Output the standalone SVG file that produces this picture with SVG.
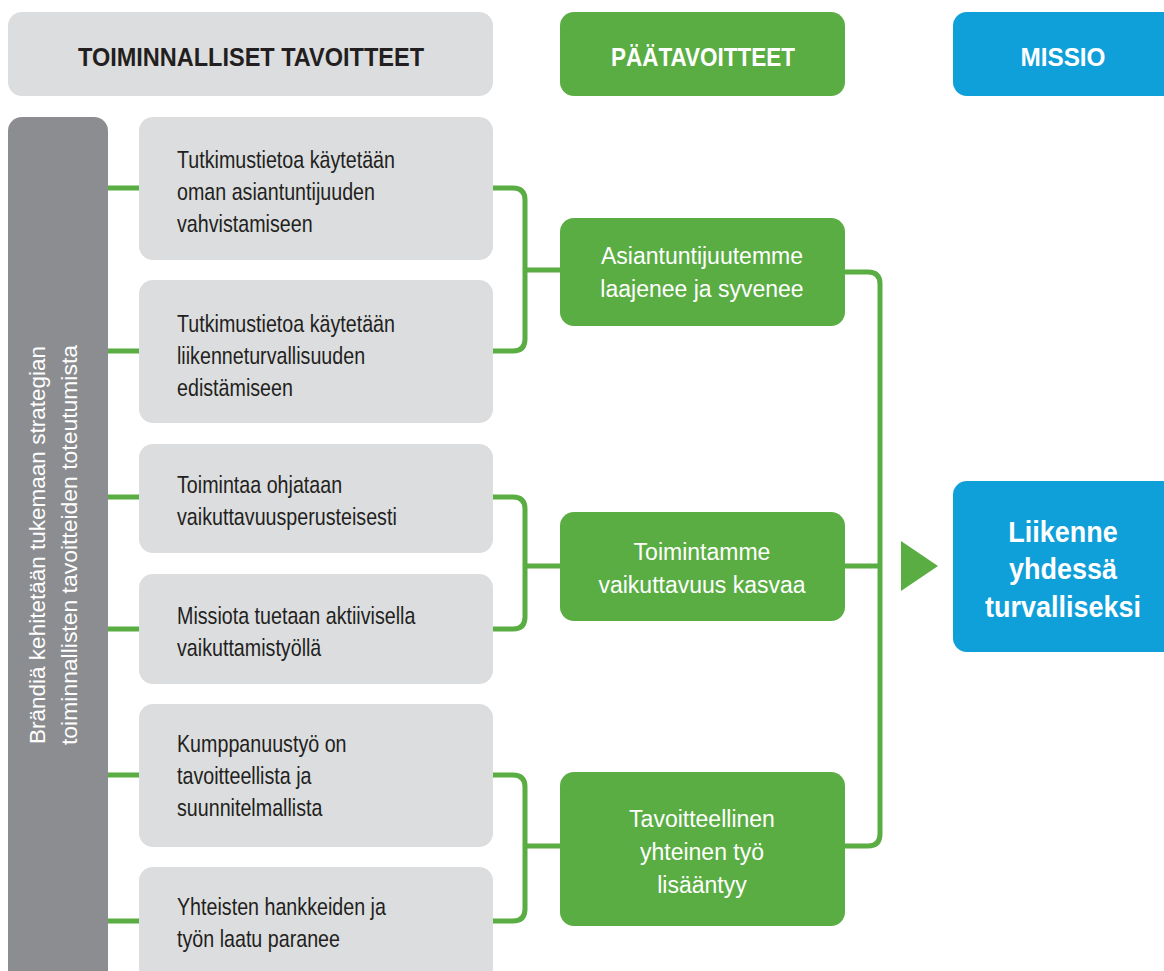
<svg xmlns="http://www.w3.org/2000/svg" width="1164" height="971" viewBox="0 0 1164 971">
<style>
.t{font-family:"Liberation Sans",sans-serif;font-size:24px;fill:#231f20}
.w{font-family:"Liberation Sans",sans-serif;font-size:23px;fill:#fff;text-anchor:middle}
.h{font-family:"Liberation Sans",sans-serif;font-size:25px;font-weight:bold;text-anchor:middle}
.g{fill:#dcdddf}
.gr{fill:#5aad43}
.bl{fill:#0fa0da}
.c{fill:none;stroke:#5aad43;stroke-width:5}
</style>
<rect width="1164" height="971" fill="#fff"/>
<g id="header-toiminnalliset"><rect class="g" x="8" y="12" width="485" height="84" rx="14"/><text class="h" x="251" y="66" fill="#231f20" textLength="346" lengthAdjust="spacingAndGlyphs">TOIMINNALLISET TAVOITTEET</text></g>
<g id="header-paatavoitteet"><rect class="gr" x="560" y="12" width="285" height="84" rx="14"/><text class="h" x="703" y="66" fill="#fff" textLength="184" lengthAdjust="spacingAndGlyphs">PÄÄTAVOITTEET</text></g>
<g id="header-missio"><rect class="bl" x="953" y="12" width="230" height="84" rx="14"/><text class="h" x="1063" y="66" fill="#fff" textLength="85" lengthAdjust="spacingAndGlyphs">MISSIO</text></g>
<g id="sidebar"><rect x="8" y="117" width="100" height="880" rx="14" fill="#8c8d90"/>
<text class="w" style="font-size:22px" transform="translate(45,545) rotate(-90)" textLength="398" lengthAdjust="spacingAndGlyphs">Brändiä kehitetään tukemaan strategian</text>
<text class="w" style="font-size:22px" transform="translate(77,545) rotate(-90)" textLength="400" lengthAdjust="spacingAndGlyphs">toiminnallisten tavoitteiden toteutumista</text></g>
<g id="connectors">
<path class="c" d="M108 188H139M108 351H139M108 497H139M108 629H139M108 775H139M108 921H139"/>
<path class="c" d="M493 188H513Q525 188 525 200V339Q525 351 513 351H493M525 270H560"/>
<path class="c" d="M493 497H513Q525 497 525 509V617Q525 629 513 629H493M525 566H560"/>
<path class="c" d="M493 775H513Q525 775 525 787V909Q525 921 513 921H493M525 846H560"/>
<path class="c" d="M845 272H868Q880 272 880 284V834Q880 846 868 846H845M845 566H880"/>
<polygon points="901,541 938,566 901,591" fill="#5aad43"/>
</g>
<g id="box1"><rect class="g" x="139" y="117" width="354" height="143" rx="14"/><g transform="translate(177 0) scale(0.82 1)"><text class="t" x="0" y="168">Tutkimustietoa käytetään</text><text class="t" x="0" y="200">oman asiantuntijuuden</text><text class="t" x="0" y="232">vahvistamiseen</text></g></g>
<g id="box2"><rect class="g" x="139" y="280" width="354" height="143" rx="14"/><g transform="translate(177 0) scale(0.82 1)"><text class="t" x="0" y="332">Tutkimustietoa käytetään</text><text class="t" x="0" y="364">liikenneturvallisuuden</text><text class="t" x="0" y="396">edistämiseen</text></g></g>
<g id="box3"><rect class="g" x="139" y="444" width="354" height="109" rx="14"/><g transform="translate(177 0) scale(0.82 1)"><text class="t" x="0" y="493">Toimintaa ohjataan</text><text class="t" x="0" y="525">vaikuttavuusperusteisesti</text></g></g>
<g id="box4"><rect class="g" x="139" y="574" width="354" height="110" rx="14"/><g transform="translate(177 0) scale(0.82 1)"><text class="t" x="0" y="624">Missiota tuetaan aktiivisella</text><text class="t" x="0" y="656">vaikuttamistyöllä</text></g></g>
<g id="box5"><rect class="g" x="139" y="704" width="354" height="143" rx="14"/><g transform="translate(177 0) scale(0.82 1)"><text class="t" x="0" y="752">Kumppanuustyö on</text><text class="t" x="0" y="784">tavoitteellista ja</text><text class="t" x="0" y="816">suunnitelmallista</text></g></g>
<g id="box6"><rect class="g" x="139" y="867" width="354" height="130" rx="14"/><g transform="translate(177 0) scale(0.82 1)"><text class="t" x="0" y="915">Yhteisten hankkeiden ja</text><text class="t" x="0" y="947">työn laatu paranee</text></g></g>
<g id="goal1"><rect class="gr" x="560" y="218" width="285" height="108" rx="14"/><text class="w" x="702" y="264">Asiantuntijuutemme</text><text class="w" x="702" y="297">laajenee ja syvenee</text></g>
<g id="goal2"><rect class="gr" x="560" y="512" width="285" height="109" rx="14"/><text class="w" x="702" y="560">Toimintamme</text><text class="w" x="702" y="593">vaikuttavuus kasvaa</text></g>
<g id="goal3"><rect class="gr" x="560" y="772" width="285" height="154" rx="14"/><text class="w" x="702" y="827">Tavoitteellinen</text><text class="w" x="702" y="860">yhteinen työ</text><text class="w" x="702" y="893">lisääntyy</text></g>
<g id="mission"><rect class="bl" x="953" y="481" width="230" height="171" rx="14"/><g transform="translate(1063 0) scale(0.93 1)"><text class="w" style="font-size:29px;font-weight:bold" x="0" y="542">Liikenne</text><text class="w" style="font-size:29px;font-weight:bold" x="0" y="579">yhdessä</text><text class="w" style="font-size:29px;font-weight:bold" x="0" y="617">turvalliseksi</text></g></g>
</svg>
